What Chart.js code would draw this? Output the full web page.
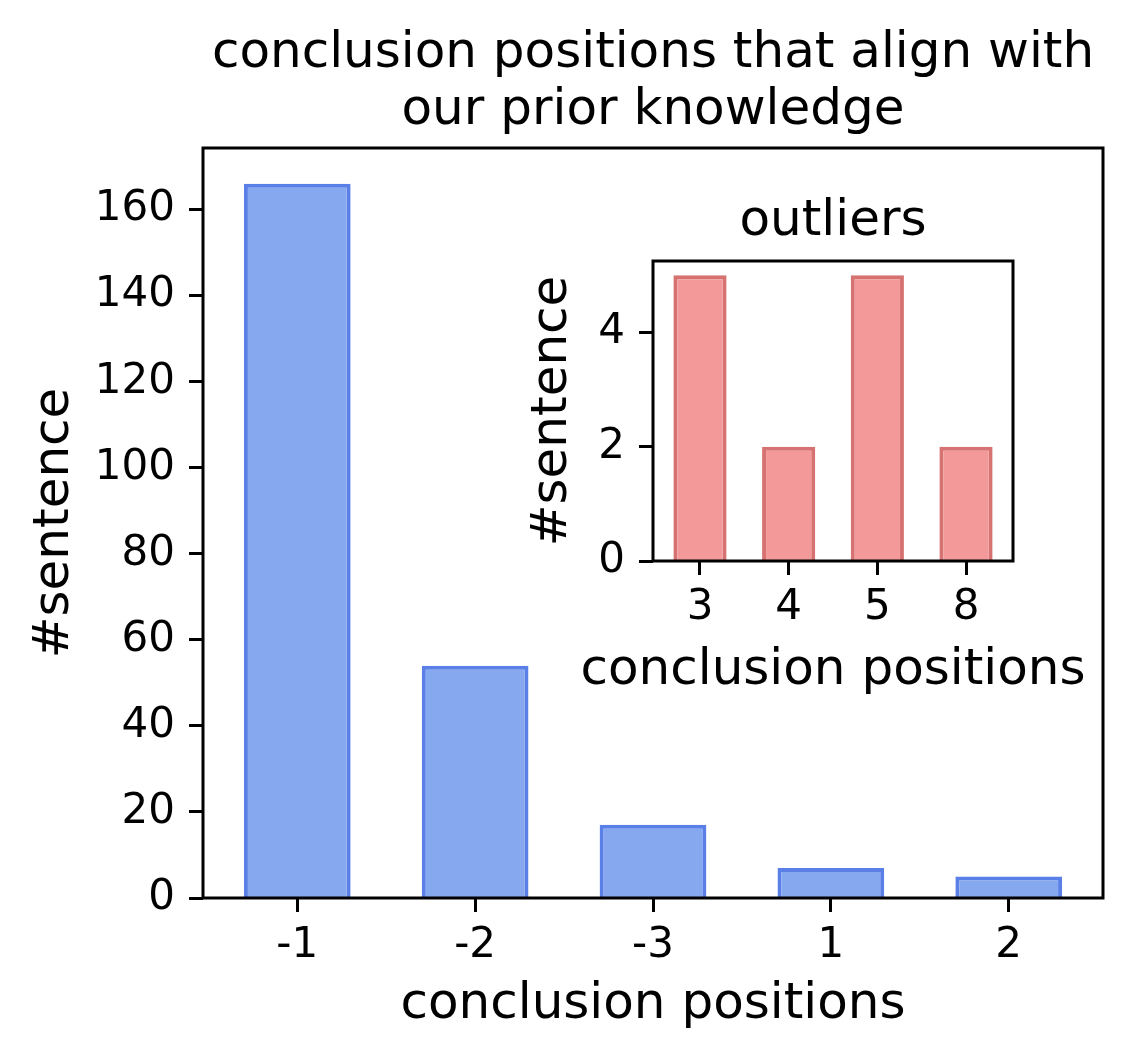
<!DOCTYPE html>
<html>
<head>
<meta charset="utf-8">
<script src="https://cdn.jsdelivr.net/npm/chart.js@4"></script>
<style>
  body { margin: 0; background: #fff; }
  #wrap { position: relative; width: 1133px; height: 1062px; }
  #mainChart { position: absolute; left: 0; top: 0; }
  #insetChart { position: absolute; left: 520px; top: 180px; }
</style>
</head>
<body>
<div id="wrap">
  <canvas id="mainChart" width="1133" height="1062"></canvas>
  <canvas id="insetChart" width="590" height="540"></canvas>
</div>
<script>
// main chart data
const mainLabels = ['-1', '-2', '-3', '1', '2'];
const mainCounts = [166, 54, 17, 7, 5];

// inset (outliers)
const outlierLabels = ['3', '4', '5', '8'];
const outlierCounts = [5, 2, 5, 2];

const FONT = "'DejaVu Sans', sans-serif";
Chart.defaults.color = '#000';
Chart.defaults.font.family = FONT;

// frame around the plot area + optional white face
const framePlugin = {
    id: 'frame',
    beforeDraw(chart, args, opts) {
        const a = chart.chartArea;
        if (opts.face) {
            const ctx = chart.ctx;
            ctx.save();
            ctx.fillStyle = '#fff';
            ctx.fillRect(a.left, a.top, a.right - a.left, a.bottom - a.top);
            ctx.restore();
        }
    },
    afterDraw(chart, args, opts) {
        const a = chart.chartArea;
        const ctx = chart.ctx;
        ctx.save();
        ctx.strokeStyle = '#000';
        ctx.lineWidth = 3;
        ctx.strokeRect(a.left, a.top, a.right - a.left, a.bottom - a.top);
        // x label drawn by hand when it is wider than the plot (scale title would squeeze it)
        if (opts.xLabel) {
            ctx.fillStyle = '#000';
            ctx.font = opts.xLabel.size + 'px ' + FONT;
            ctx.textAlign = 'center';
            ctx.textBaseline = 'middle';
            ctx.fillText(opts.xLabel.text, (a.left + a.right) / 2, chart.height - opts.xLabel.pad - opts.xLabel.size * 0.6);
        }
        ctx.restore();
    }
};

function toPoints(vals) {
    return vals.map((v, i) => ({ x: i, y: v }));
}

function buildOptions(cfg) {
    return {
        responsive: false,
        animation: false,
        devicePixelRatio: 1,
        layout: { padding: { left: 0, right: cfg.padRight, top: 0, bottom: 0 } },
        plugins: {
            legend: { display: false },
            tooltip: { enabled: false },
            frame: { face: cfg.face, xLabel: cfg.handLabel ? { text: 'conclusion positions', size: 50, pad: cfg.xTitlePad } : null },
            title: {
                display: true,
                text: cfg.title,
                fullSize: false,
                color: '#000',
                font: { size: 50, weight: 'normal', lineHeight: cfg.titleLH },
                padding: cfg.titlePad
            }
        },
        scales: {
            x: {
                type: 'linear',
                offset: false,
                min: -0.53,
                max: cfg.labels.length - 1 + 0.53,
                border: { display: false },
                grid: { offset: false, drawOnChartArea: false, drawTicks: true, tickLength: 14, tickWidth: 3, tickColor: '#000' },
                ticks: {
                    stepSize: 1,
                    includeBounds: false,
                    autoSkip: false,
                    maxRotation: 0,
                    padding: cfg.xTickPad,
                    font: { size: 42 },
                    callback: v => cfg.labels[v] ?? ''
                },
                title: {
                    display: !cfg.handLabel,
                    text: 'conclusion positions',
                    font: { size: 50, lineHeight: 1.2 },
                    padding: { top: 0, bottom: cfg.xTitlePad }
                },
                afterFit: s => { s.height = cfg.xHeight; }
            },
            y: {
                min: 0,
                max: cfg.yMax,
                border: { display: false },
                grid: { drawOnChartArea: false, drawTicks: true, tickLength: 14, tickWidth: 3, tickColor: '#000' },
                ticks: {
                    stepSize: cfg.yStep,
                    includeBounds: false,
                    padding: 14,
                    font: { size: 42 }
                },
                title: {
                    display: true,
                    text: '#sentence',
                    font: { size: 50, lineHeight: 1.2 },
                    padding: { top: cfg.yTitlePad, bottom: 0 }
                },
                afterFit: s => { s.width = cfg.yWidth; }
            }
        }
    };
}

new Chart(document.getElementById('mainChart'), {
    type: 'bar',
    data: {
        datasets: [{
            data: toPoints(mainCounts),
            backgroundColor: '#85A8EF',
            borderColor: '#5A7FE7',
            borderWidth: 4,
            barPercentage: 0.6,
            categoryPercentage: 1
        }]
    },
    options: buildOptions({
        labels: mainLabels,
        title: ['conclusion positions that align with', 'our prior knowledge'],
        titleLH: 1.14,
        titlePad: { top: 26, bottom: 8 },
        padRight: 30,
        xHeight: 164,
        yWidth: 203,
        xTickPad: 9,
        xTitlePad: 27,
        yTitlePad: 25,
        yMax: 174.3,
        yStep: 20,
        face: false,
        handLabel: false
    }),
    plugins: [framePlugin]
});

new Chart(document.getElementById('insetChart'), {
    type: 'bar',
    data: {
        datasets: [{
            data: toPoints(outlierCounts),
            backgroundColor: '#F39999',
            borderColor: '#D67272',
            borderWidth: 4,
            barPercentage: 0.6,
            categoryPercentage: 1
        }]
    },
    options: buildOptions({
        labels: outlierLabels,
        title: 'outliers',
        titleLH: 1.2,
        titlePad: { top: 12, bottom: 9 },
        padRight: 97,
        xHeight: 159,
        yWidth: 133,
        xTickPad: 8,
        xTitlePad: 19,
        yTitlePad: 3,
        yMax: 5.25,
        yStep: 2,
        face: true,
        handLabel: true
    }),
    plugins: [framePlugin]
});
</script>
</body>
</html>
